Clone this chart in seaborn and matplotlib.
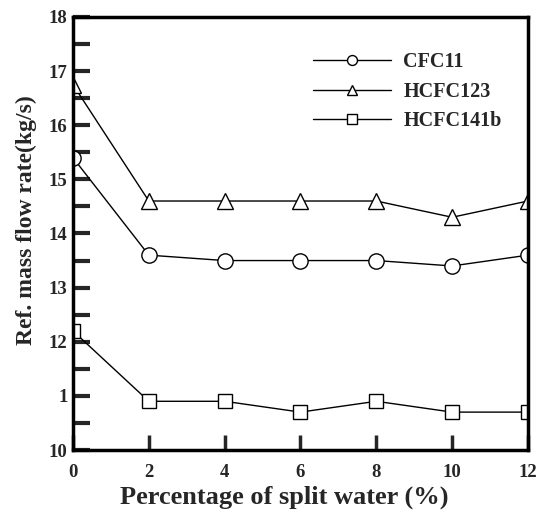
import matplotlib
matplotlib.use("Agg")
import matplotlib.pyplot as plt
import numpy as np
import seaborn as sns
from matplotlib.ticker import MultipleLocator

# Data
split_water = [0, 2, 4, 6, 8, 10, 12]
cfc11 = [15.4, 13.6, 13.5, 13.5, 13.5, 13.4, 13.6]
hcfc123 = [16.75, 14.6, 14.6, 14.6, 14.6, 14.3, 14.6]
hcfc141b = [12.2, 10.9, 10.9, 10.7, 10.9, 10.7, 10.7]

series_names = ["CFC11", "HCFC123", "HCFC141b"]
series_markers = ["o", "^", "s"]

yticks = [10, 11, 12, 13, 14, 15, 16, 17, 18]
ytick_labels = ["10", "1", "12", "13", "14", "15", "16", "17", "18"]
xticks = [0, 2, 4, 6, 8, 10, 12]

sns.set_style("ticks")
plt.rcParams["font.family"] = ["Liberation Serif", "DejaVu Serif"]
plt.rcParams["font.weight"] = "bold"

fig = plt.figure(figsize=(5.46, 5.13), dpi=100)
ax = fig.add_axes([0.1337, 0.1228, 0.8333, 0.8441])

for name, mk, vals in zip(series_names, series_markers, [cfc11, hcfc123, hcfc141b]):
    sns.lineplot(
        x=split_water, y=vals, ax=ax, color="black", linewidth=1.0,
        marker=mk, markersize=11 if mk != "s" else 10,
        markerfacecolor="white", markeredgecolor="black", markeredgewidth=1.0,
        label=name,
    )

ax.set_xlim(0, 12)
ax.set_ylim(10, 18)
ax.set_xticks(xticks)
ax.set_xticklabels([str(v) for v in xticks])
ax.set_yticks(yticks)
ax.set_yticklabels(ytick_labels)
ax.yaxis.set_minor_locator(MultipleLocator(0.5))

for s in ax.spines.values():
    s.set_linewidth(2.5)
    s.set_color("black")

ax.tick_params(axis="y", which="both", direction="in", length=12, width=3,
               labelsize=13.5, pad=4, right=False)
ax.tick_params(axis="x", which="major", direction="in", length=11, width=2.5,
               labelsize=13.5, pad=10, top=False)
for lbl in ax.get_xticklabels() + ax.get_yticklabels():
    lbl.set_fontweight("bold")

ax.set_xlabel("Percentage of split water (%)", fontsize=19, fontweight="bold")
ax.set_ylabel("Ref. mass flow rate(kg/s)", fontsize=17, fontweight="bold")
ax.xaxis.set_label_coords(0.464, -0.082)
ax.yaxis.set_label_coords(-0.079, 0.531)

leg = ax.legend(loc="upper left", bbox_to_anchor=(0.527, 0.918), frameon=False,
                handlelength=3.9, markerscale=0.65, borderpad=0, borderaxespad=0,
                handletextpad=0.6, labelspacing=0.45,
                prop={"family": "Liberation Serif", "weight": "bold", "size": 14.5})

fig.savefig("out.png", dpi=100)
